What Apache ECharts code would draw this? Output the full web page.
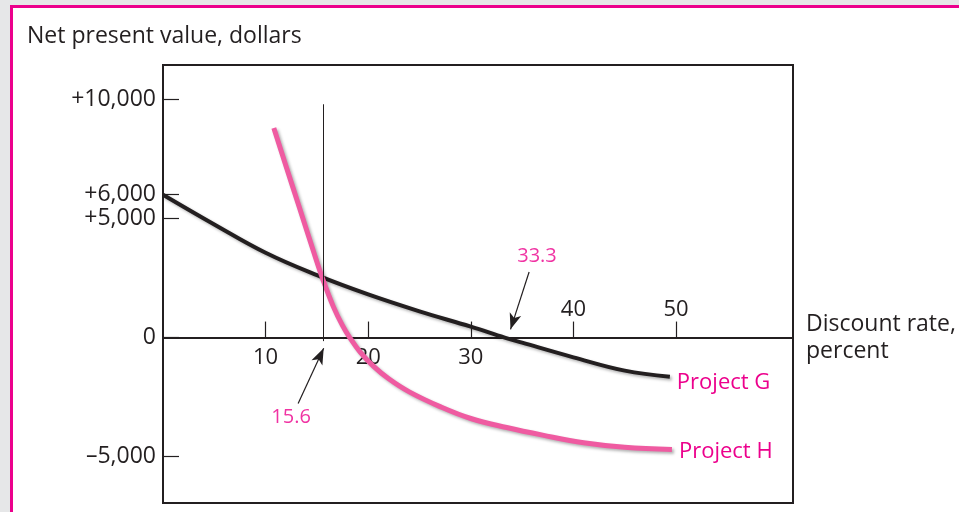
<!DOCTYPE html>
<html><head><meta charset="utf-8">
<script src="https://cdn.jsdelivr.net/npm/echarts@6/dist/echarts.min.js"></script>
<style>
html,body{margin:0;padding:0;background:#e6e7e8;width:959px;height:512px;overflow:hidden;}
#frame{position:absolute;left:10px;top:5px;width:1000px;height:600px;border:3px solid #ec008c;background:#fff;box-sizing:border-box}
#chart{position:absolute;left:0;top:0;width:959px;height:512px;}
</style></head><body><div id="frame"></div><div id="chart"></div>
<script>
// Data
const rateG = [0, 5, 10, 15, 20, 25, 30, 33.3, 35, 40, 45, 49.4];
const npvG  = [6000, 4750, 3560, 2620, 1810, 1100, 460, 0, -215, -830, -1390, -1650];
const rateH = [10.8, 12, 13.3, 14.6, 15.6, 16.6, 17.5, 18.2, 19.2, 20.5, 22, 24, 27, 30, 33.5, 37, 41, 45, 49.6];
const npvH  = [8800, 7190, 5450, 3710, 2420, 1300, 500, 0, -600, -1200, -1730, -2280, -2900, -3400, -3780, -4100, -4420, -4610, -4700];

const xTickValues = [10, 20, 30, 40, 50];
const xLabelsBelow = [10, 20, 30];
const xLabelsAbove = [40, 50];
const yTickValues = [10000, 6000, 5000, 0, -5000];
const yTickLabels = ['+10,000', '+6,000', '+5,000', '0', '\u20135,000'];

const crossoverRate = 15.6;
const annotationTexts = ['33.3', '15.6'];
const annotationPoints = [[36.45, 3395], [12.48, -3370]];
const arrowG = [[35.68, 2752], [33.87, 344]];
const arrowCross = [[13.17, -2765], [15.66, -454]];
const crossLineTop = 9800;

const FONT = 'Open Sans';
const INK = '#231f20';
const MAGENTA = '#ec008c';
const PINK = '#ef5ba1';

const W = 959, H = 512;
const gridLeft = 163, gridRight = 166, gridTop = 65, gridBottom = 9;
const xMin = 0, xMax = 61.4, yMin = -6950, yMax = 11450;
const plotH = H - gridTop - gridBottom;
const zeroFromBottom = plotH * (0 - yMin) / (yMax - yMin);
const zeroFromTop = plotH - zeroFromBottom;

const chart = echarts.init(document.getElementById('chart'), null, {renderer: 'canvas', width: W, height: H});

const option = {
  animation: false,
  backgroundColor: 'transparent',
  textStyle: {fontFamily: FONT},
  title: {
    text: 'Net present value, dollars', left: 27, top: 25, padding: 0,
    textStyle: {fontFamily: FONT, fontSize: 23, fontWeight: 'normal', color: INK}
  },
  grid: {
    left: gridLeft, right: gridRight, top: gridTop, bottom: gridBottom, containLabel: false, outerBoundsMode: 'none',
    show: true, borderColor: INK, borderWidth: 2, backgroundColor: 'transparent'
  },
  xAxis: [{
    type: 'value', min: xMin, max: xMax, position: 'bottom', offset: -zeroFromBottom,
    name: 'Discount rate,\npercent', nameLocation: 'end', nameGap: 13,
    nameTextStyle: {fontFamily: FONT, fontSize: 23, color: INK, align: 'left', verticalAlign: 'middle', lineHeight: 27, padding: [0, 0, 8, 0]},
    axisLine: {show: true, onZero: false, lineStyle: {color: INK, width: 2}},
    axisTick: {show: true, inside: true, length: 16, customValues: xTickValues, lineStyle: {color: INK, width: 1.2}},
    axisLabel: {show: true, customValues: xLabelsBelow, margin: 9, fontFamily: FONT, fontSize: 22, color: INK},
    splitLine: {show: false}
  }, {
    type: 'value', min: xMin, max: xMax, position: 'top', offset: -zeroFromTop,
    axisLine: {show: false, onZero: false},
    axisTick: {show: false},
    axisLabel: {show: true, customValues: xLabelsAbove, margin: 17, fontFamily: FONT, fontSize: 22, color: INK},
    splitLine: {show: false}
  }],
  yAxis: [{
    type: 'value', min: yMin, max: yMax, position: 'left',
    axisLine: {show: true, onZero: false, lineStyle: {color: INK, width: 2}},
    axisTick: {show: true, inside: true, length: 16, customValues: yTickValues, lineStyle: {color: INK, width: 1.2}},
    axisLabel: {
      show: true, customValues: yTickValues, margin: 7, fontFamily: FONT, fontSize: 23, color: INK,
      formatter: v => yTickLabels[yTickValues.indexOf(v)]
    },
    splitLine: {show: false}
  }],
  series: [{
    name: 'Project G', type: 'line', smooth: 0.4, showSymbol: false, symbol: 'none',
    data: rateG.map((r, i) => [r, npvG[i]]),
    lineStyle: {color: INK, width: 4, cap: 'butt', shadowColor: 'rgba(0,0,0,0.3)', shadowBlur: 3, shadowOffsetX: 2, shadowOffsetY: 2},
    endLabel: {show: true, formatter: 'Project G', color: MAGENTA, fontFamily: FONT, fontSize: 22, distance: 7, offset: [0, 6]},
    markLine: {
      silent: true, animation: false, label: {show: false},
      lineStyle: {color: INK, width: 1.2, type: 'solid'},
      data: [
        [{coord: arrowG[0], symbol: 'none'}, {coord: arrowG[1], symbol: 'arrow', symbolSize: [9, 16]}],
        [{coord: arrowCross[0], symbol: 'none'}, {coord: arrowCross[1], symbol: 'arrow', symbolSize: [9, 16]}]
      ]
    }
  }, {
    name: 'Project H', type: 'line', smooth: 0.4, showSymbol: false, symbol: 'none',
    data: rateH.map((r, i) => [r, npvH[i]]),
    lineStyle: {color: PINK, width: 5, cap: 'butt', shadowColor: 'rgba(0,0,0,0.3)', shadowBlur: 3, shadowOffsetX: 2, shadowOffsetY: 2},
    endLabel: {show: true, formatter: 'Project H', color: MAGENTA, fontFamily: FONT, fontSize: 22, distance: 7, offset: [0, 2]},
    markLine: {
      silent: true, animation: false, label: {show: false}, symbol: 'none',
      lineStyle: {color: INK, width: 1, type: 'solid'},
      data: [[{coord: [crossoverRate, -150]}, {coord: [crossoverRate, crossLineTop]}]]
    }
  }, {
    name: 'annotations', type: 'scatter', symbolSize: 0, silent: true,
    data: annotationPoints.map((p, i) => [p[0], p[1], annotationTexts[i]]),
    label: {show: true, position: 'inside', formatter: p => p.value[2], color: MAGENTA, fontFamily: FONT, fontSize: 20}
  }]
};
chart.setOption(option);
</script></body></html>
